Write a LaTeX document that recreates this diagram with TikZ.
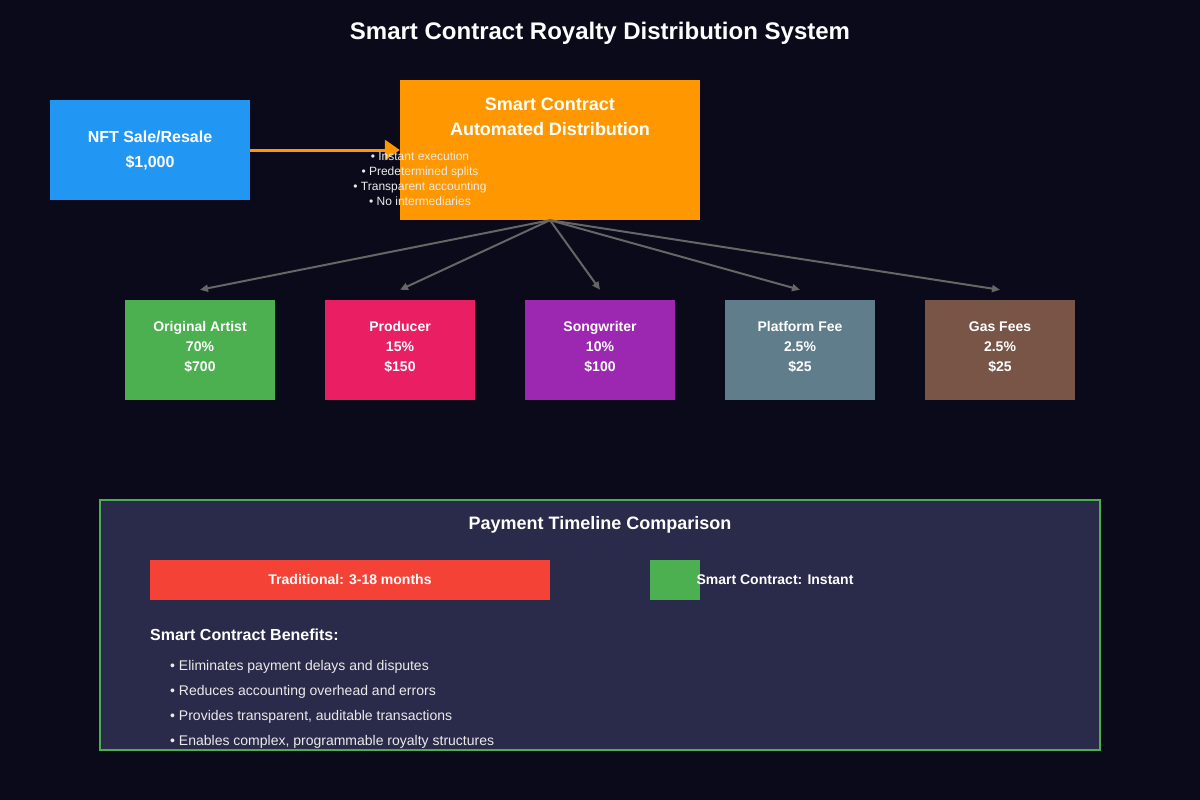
\documentclass[tikz,border=0pt]{standalone}
\usepackage{fontspec}
\setmainfont{Liberation Sans}
\usetikzlibrary{arrows.meta,positioning}
\definecolor{bgdark}{HTML}{0A0A1A}
\definecolor{panelbg}{HTML}{2A2A4A}
\definecolor{nftblue}{HTML}{2196F3}
\definecolor{contractorange}{HTML}{FF9800}
\definecolor{artistgreen}{HTML}{4CAF50}
\definecolor{producerpink}{HTML}{E91E63}
\definecolor{writerpurple}{HTML}{9C27B0}
\definecolor{platformgrey}{HTML}{607D8B}
\definecolor{gasbrown}{HTML}{795548}
\definecolor{tradred}{HTML}{F44336}
\definecolor{flowgrey}{HTML}{666666}
\begin{document}
\begin{tikzpicture}[x=1pt,y=-1pt,
  share/.style={minimum width=150pt, minimum height=100pt, inner sep=0pt},
  sharetext/.style={text=white, align=center, inner sep=0pt, yshift=3pt,
    font=\fontsize{14}{20}\selectfont\bfseries},
  split/.style={draw=flowgrey, line width=2pt, -{Triangle[length=8pt,width=7pt]}}]
\fill[bgdark] (0,0) rectangle (1200,800);
\useasboundingbox (0,0) rectangle (1200,800);
\node[text=white, font=\fontsize{24}{28}\selectfont\bfseries] (title) at (600,33) {Smart Contract Royalty Distribution System};
% sale and contract
\node[fill=nftblue, minimum width=200pt, minimum height=100pt, inner sep=0pt, text=white,
  align=center, font=\fontsize{16}{25}\selectfont\bfseries] (nft) at (150,150) {NFT Sale/Resale\\\$1,000};
\node[fill=contractorange, minimum width=300pt, minimum height=140pt, inner sep=0pt] (contract) at (550,150) {};
\node[text=white, align=center, font=\fontsize{18}{25}\selectfont\bfseries] (contracttitle) at (550,117) {Smart Contract\\Automated Distribution};
\draw[contractorange, line width=3pt, -{Triangle[length=15pt,width=20pt]}] (nft.east) -- (contract.west);
\node[text=white!92!black, align=center, font=\fontsize{12}{15}\selectfont] (features) at (420,179)
  {\textbullet{} Instant execution\\\textbullet{} Predetermined splits\\\textbullet{} Transparent accounting\\\textbullet{} No intermediaries};
% shares
\node[share, fill=artistgreen, label={[sharetext, name=artisttext]center:Original Artist\\70\%\\\$700}] (artist) at (200,350) {};
\node[share, fill=producerpink, label={[sharetext, name=producertext]center:Producer\\15\%\\\$150}] (producer) at (400,350) {};
\node[share, fill=writerpurple, label={[sharetext, name=writertext]center:Songwriter\\10\%\\\$100}] (writer) at (600,350) {};
\node[share, fill=platformgrey, label={[sharetext, name=platformtext]center:Platform Fee\\2.5\%\\\$25}] (platform) at (800,350) {};
\node[share, fill=gasbrown, label={[sharetext, name=gastext]center:Gas Fees\\2.5\%\\\$25}] (gas) at (1000,350) {};
\foreach \s in {artist,producer,writer,platform,gas}
  \draw[split] (contract.south) -- ([yshift=10pt]\s.north);
% timeline panel
\draw[fill=panelbg, draw=artistgreen, line width=2pt] (100,500) rectangle (1100,750);
\node[text=white, font=\fontsize{18}{22}\selectfont\bfseries] (paneltitle) at (600,525) {Payment Timeline Comparison};
\node[fill=tradred, minimum width=400pt, minimum height=40pt, inner sep=0pt, text=white,
  font=\fontsize{14}{17}\selectfont\bfseries] (traditional) at (350,580) {Traditional: 3-18 months};
\node[fill=artistgreen, minimum width=50pt, minimum height=40pt, inner sep=0pt] (instant) at (675,580) {};
\node[text=white, font=\fontsize{14}{17}\selectfont\bfseries] (instantlabel) at (775,580) {Smart Contract: Instant};
\node[anchor=west, inner sep=0pt, text=white, font=\fontsize{16}{20}\selectfont\bfseries] (benefits) at (150,635) {Smart Contract Benefits:};
\node[anchor=north west, inner sep=0pt, text=white!92!black, align=left, font=\fontsize{14}{25}\selectfont] (benefitlist) at (170,660)
  {\textbullet{} Eliminates payment delays and disputes\\\textbullet{} Reduces accounting overhead and errors\\\textbullet{} Provides transparent, auditable transactions\\\textbullet{} Enables complex, programmable royalty structures};
\end{tikzpicture}
\end{document}
